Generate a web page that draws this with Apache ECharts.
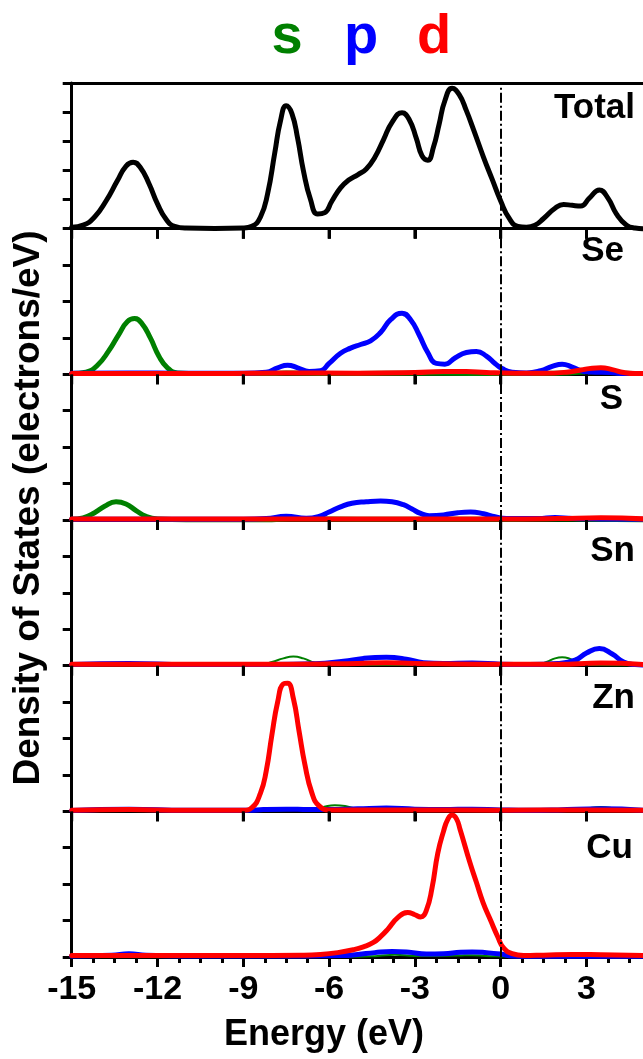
<!DOCTYPE html>
<html><head><meta charset="utf-8">
<script src="https://cdn.jsdelivr.net/npm/echarts@6/dist/echarts.min.js"></script>
<style>html,body{margin:0;padding:0;background:#fff}#c{width:643px;height:1059px}</style>
</head><body><div id="c"></div><script>
// ---------- data (energy eV, DOS in panel tick units) ----------
const xTicks = [-15, -12, -9, -6, -3, 0, 3];
const panelNames = ['Total', 'Se', 'S', 'Sn', 'Zn', 'Cu'];
const orbitalNames = ['s', 'p', 'd'];

const totalDos = [[-15,0.05],[-14.6,0.12],[-14.2,0.4],[-13.8,0.95],[-13.4,1.65],[-13.1,2.15],[-12.85,2.28],[-12.6,2.1],[-12.3,1.55],[-12.0,0.85],[-11.7,0.32],[-11.4,0.08],[-11,0.02],[-10,0.01],[-9,0.02],[-8.7,0.08],[-8.4,0.4],[-8.15,1.2],[-7.9,2.6],[-7.7,3.7],[-7.5,4.22],[-7.3,3.95],[-7.1,3.1],[-6.9,2.0],[-6.65,1.0],[-6.4,0.5],[-6.15,0.55],[-5.9,0.95],[-5.6,1.4],[-5.3,1.68],[-5.0,1.85],[-4.7,2.05],[-4.4,2.45],[-4.1,3.05],[-3.8,3.65],[-3.45,3.98],[-3.2,3.75],[-2.95,3.1],[-2.75,2.5],[-2.55,2.35],[-2.35,2.8],[-2.15,3.6],[-1.95,4.4],[-1.7,4.82],[-1.45,4.6],[-1.2,4.05],[-0.95,3.4],[-0.6,2.45],[-0.3,1.7],[0,0.95],[0.3,0.35],[0.6,0.08],[0.9,0.05],[1.2,0.12],[1.5,0.35],[1.9,0.7],[2.2,0.83],[2.5,0.8],[2.8,0.78],[3.1,1.05],[3.45,1.33],[3.75,1.05],[4.05,0.5],[4.4,0.12],[4.7,0.02],[5,0]];

const seS = [[-15,0.02],[-14.5,0.06],[-14.1,0.25],[-13.7,0.65],[-13.35,1.1],[-13.05,1.45],[-12.8,1.53],[-12.55,1.4],[-12.25,1.0],[-11.95,0.5],[-11.65,0.18],[-11.3,0.04],[-10.5,0.02],[-8,0.02],[-7.5,0.04],[-6,0.02],[-4,0.03],[-2,0.03],[0,0.02],[2,0.03],[3.5,0.08],[4.3,0.03],[5,0.02]];
const seP = [[-15,0.03],[-13,0.04],[-11,0.03],[-9,0.03],[-8.2,0.06],[-7.8,0.18],[-7.45,0.25],[-7.1,0.18],[-6.7,0.08],[-6.3,0.1],[-6.0,0.3],[-5.6,0.58],[-5.25,0.72],[-4.9,0.82],[-4.55,0.92],[-4.2,1.15],[-3.85,1.5],[-3.45,1.68],[-3.15,1.5],[-2.85,1.08],[-2.55,0.6],[-2.25,0.3],[-1.95,0.28],[-1.6,0.45],[-1.2,0.6],[-0.85,0.63],[-0.5,0.5],[-0.2,0.3],[0.05,0.16],[0.4,0.06],[0.9,0.04],[1.4,0.1],[1.8,0.22],[2.15,0.28],[2.5,0.2],[2.9,0.08],[3.3,0.06],[3.8,0.05],[4.3,0.02],[5,0.02]];
const seD = [[-15,0.02],[-10,0.02],[-7.5,0.04],[-5,0.03],[-3,0.05],[-2,0.08],[-1.2,0.08],[-0.5,0.05],[0.5,0.03],[1.5,0.03],[2.3,0.06],[2.8,0.12],[3.2,0.17],[3.5,0.18],[3.9,0.13],[4.3,0.05],[4.7,0.02],[5,0.02]];

const sS = [[-15,0.02],[-14.6,0.06],[-14.2,0.2],[-13.85,0.38],[-13.45,0.5],[-13.1,0.44],[-12.75,0.26],[-12.4,0.1],[-12.0,0.03],[-11,0.01],[-8,0.01],[-7.4,0.03],[-5,0.02],[0,0.02],[2,0.03],[3,0.02],[5,0.01]];
const sP = [[-15,0.02],[-12,0.02],[-9,0.02],[-8.2,0.04],[-7.5,0.1],[-6.8,0.05],[-6.35,0.1],[-6.0,0.22],[-5.6,0.36],[-5.2,0.46],[-4.7,0.5],[-4.2,0.52],[-3.8,0.5],[-3.4,0.42],[-3.1,0.3],[-2.8,0.18],[-2.5,0.12],[-2.0,0.14],[-1.5,0.2],[-1.05,0.22],[-0.6,0.17],[-0.2,0.09],[0.2,0.04],[1.3,0.04],[1.9,0.07],[2.5,0.04],[3.5,0.03],[5,0.02]];
const sD = [[-15,0.03],[-5,0.03],[0,0.03],[2,0.04],[3.5,0.06],[5,0.03]];

const snS = [[-15,0.01],[-9,0.01],[-8.4,0.03],[-8.0,0.1],[-7.6,0.2],[-7.25,0.25],[-6.9,0.2],[-6.5,0.08],[-6.1,0.02],[-3,0.02],[0,0.01],[1.2,0.02],[1.6,0.1],[1.9,0.2],[2.15,0.23],[2.45,0.18],[2.8,0.07],[3.2,0.02],[5,0.01]];
const snP = [[-15,0.03],[-13,0.06],[-11,0.03],[-8,0.03],[-6.5,0.05],[-5.5,0.12],[-4.8,0.2],[-4,0.23],[-3.3,0.18],[-2.7,0.08],[-2,0.06],[-1,0.07],[0,0.04],[1,0.03],[2,0.06],[2.6,0.15],[3.0,0.35],[3.45,0.47],[3.9,0.32],[4.3,0.1],[4.7,0.03],[5,0.02]];
const snD = [[-15,0.04],[-12,0.04],[-8,0.04],[-5,0.06],[-4,0.08],[-3,0.06],[0,0.04],[2,0.04],[3.5,0.07],[5,0.03]];

const znS = [[-15,0.01],[-9,0.01],[-7.5,0.03],[-6.6,0.05],[-6.2,0.12],[-5.8,0.17],[-5.4,0.14],[-5.0,0.06],[-4.5,0.02],[0,0.01],[2.5,0.02],[3.0,0.08],[3.5,0.12],[4.0,0.08],[4.5,0.02],[5,0.01]];
const znP = [[-15,0.02],[-13,0.06],[-11,0.03],[-8.8,0.03],[-8.3,0.05],[-7.5,0.06],[-6.7,0.05],[-6,0.05],[-5,0.07],[-4,0.09],[-3,0.06],[-2,0.05],[-1,0.06],[0,0.04],[1,0.03],[2,0.04],[3.5,0.07],[5,0.03]];
const znD = [[-15,0.03],[-13,0.05],[-11,0.03],[-9,0.03],[-8.7,0.1],[-8.4,0.5],[-8.2,1.1],[-8.0,2.1],[-7.8,3.0],[-7.6,3.5],[-7.45,3.52],[-7.25,3.1],[-7.05,2.2],[-6.85,1.3],[-6.6,0.5],[-6.35,0.15],[-6,0.04],[-3,0.04],[0,0.03],[3,0.04],[5,0.03]];

const cuS = [[-15,0.01],[-5,0.01],[-4.3,0.03],[-3.7,0.06],[-3,0.03],[-1.5,0.04],[-1,0.05],[-0.5,0.03],[0.5,0.01],[2.5,0.02],[3.5,0.07],[4.3,0.02],[5,0.01]];
const cuP = [[-15,0.03],[-13.6,0.05],[-13,0.09],[-12.4,0.05],[-11,0.03],[-7,0.03],[-5.5,0.04],[-5,0.07],[-4.4,0.12],[-3.8,0.15],[-3.2,0.13],[-2.6,0.08],[-2.0,0.09],[-1.4,0.13],[-1.0,0.14],[-0.5,0.12],[0,0.08],[0.4,0.03],[1,0.02],[5,0.02]];
const cuD = [[-15,0.04],[-12,0.04],[-9,0.04],[-7,0.05],[-6.3,0.07],[-5.7,0.12],[-5.15,0.2],[-4.8,0.28],[-4.45,0.4],[-4.2,0.56],[-3.95,0.76],[-3.6,1.08],[-3.25,1.22],[-3.0,1.16],[-2.8,1.1],[-2.6,1.28],[-2.4,1.9],[-2.2,2.85],[-2.0,3.45],[-1.85,3.78],[-1.7,3.9],[-1.55,3.8],[-1.42,3.5],[-1.08,2.6],[-0.85,2.05],[-0.62,1.5],[-0.35,1.0],[-0.1,0.55],[0.1,0.25],[0.4,0.09],[0.8,0.04],[1.5,0.05],[2.5,0.07],[3.5,0.06],[5,0.04]];

// ---------- layout / style ----------
const FONT = "'Liberation Sans', Arial, sans-serif";
const COLORS = { s: '#008000', p: '#0000ff', d: '#ff0000', total: '#000000' };
const panelTops = [83, 228.67, 374.33, 520, 665.67, 811.33];
const panelH = 145.67;
const yMax = [5, 4, 4, 4, 4, 4];
const panelSeries = [
  [{ data: totalDos, c: COLORS.total, w: 5 }],
  [{ data: seS, c: COLORS.s, w: 5 }, { data: seP, c: COLORS.p, w: 5 }, { data: seD, c: COLORS.d, w: 5 }],
  [{ data: sS, c: COLORS.s, w: 5 }, { data: sP, c: COLORS.p, w: 5 }, { data: sD, c: COLORS.d, w: 5 }],
  [{ data: snS, c: COLORS.s, w: 2 }, { data: snP, c: COLORS.p, w: 5 }, { data: snD, c: COLORS.d, w: 5 }],
  [{ data: znS, c: COLORS.s, w: 2 }, { data: znP, c: COLORS.p, w: 5 }, { data: znD, c: COLORS.d, w: 5 }],
  [{ data: cuS, c: COLORS.s, w: 2 }, { data: cuP, c: COLORS.p, w: 5 }, { data: cuD, c: COLORS.d, w: 5 }]
];
const labelPos = [[635, 108], [624, 251], [623, 399], [635, 551], [635, 698], [633, 848]];

const grids = [], xAxes = [], yAxes = [], series = [];
panelTops.forEach((top, i) => {
  grids.push({ left: 71.7, width: 600.6, top: top, height: panelH, outerBoundsMode: 'none', containLabel: false });
  const last = i === panelTops.length - 1;
  xAxes.push({
    type: 'value', gridIndex: i, min: -15, max: 6, interval: 3,
    axisLine: { show: true, onZero: false, lineStyle: { color: '#000', width: 3 } },
    axisTick: { show: true, length: 10, lineStyle: { color: '#000', width: 3 } },
    minorTick: { show: last, splitNumber: 4, length: 6, lineStyle: { color: '#000', width: 3 } },
    splitLine: { show: false },
    axisLabel: {
      show: last, margin: 16, color: '#000', fontFamily: FONT, fontWeight: 'bold', fontSize: 34,
      showMaxLabel: false,
      formatter: v => xTicks.indexOf(v) >= 0 ? String(v) : ''
    }
  });
  yAxes.push({
    type: 'value', gridIndex: i, min: 0, max: yMax[i], interval: 1,
    axisLine: { show: true, onZero: false, lineStyle: { color: '#000', width: 3 } },
    axisTick: { show: true, length: 9, lineStyle: { color: '#000', width: 3 } },
    splitLine: { show: false },
    axisLabel: { show: false }
  });
  panelSeries[i].forEach((s, k) => {
    const ser = {
      type: 'line', xAxisIndex: i, yAxisIndex: i, data: s.data,
      smooth: 0.5, showSymbol: false, symbol: 'none', clip: false, silent: true,
      z: 2 + k,
      lineStyle: { color: s.c, width: s.w, join: 'round', cap: 'round' },
      itemStyle: { color: s.c }
    };
    if (k === 0) {
      ser.markLine = {
        silent: true, symbol: ['none', 'none'], label: { show: false },
        lineStyle: { color: '#000', width: 2, type: [10, 3, 2, 3] },
        data: [{ xAxis: 0 }]
      };
    }
    series.push(ser);
  });
  // major x ticks hanging down from the top edge of inner panels (positioned via the panel's own axes)
  if (i > 0) {
    const ymax = yMax[i];
    series.push({
      type: 'custom', xAxisIndex: i, yAxisIndex: i, silent: true, clip: false, z: 10,
      encode: { x: 0, y: 1 },
      data: xTicks.map(v => [v, ymax]),
      renderItem: (params, api) => {
        const p = api.coord([api.value(0), api.value(1)]);
        return { type: 'line', shape: { x1: p[0], y1: p[1], x2: p[0], y2: p[1] + 10 }, style: { stroke: '#000', lineWidth: 3 } };
      }
    });
  }
});
// top border of the first panel
xAxes.push({
  type: 'value', gridIndex: 0, min: -15, max: 6, position: 'top',
  axisLine: { show: true, onZero: false, lineStyle: { color: '#000', width: 3 } },
  axisTick: { show: false }, axisLabel: { show: false }, splitLine: { show: false }
});

const graphics = [];
panelNames.forEach((n, i) => {
  graphics.push({
    type: 'text', x: labelPos[i][0], y: labelPos[i][1], z: 100,
    style: { text: n, fill: '#000', font: `bold 35px ${FONT}`, textAlign: 'right', textVerticalAlign: 'middle', verticalAlign: 'middle' }
  });
});
const legendX = [287, 361, 434];
orbitalNames.forEach((n, i) => {
  graphics.push({
    type: 'text', x: legendX[i], y: 38, z: 100,
    style: { text: n, fill: COLORS[n], font: `bold 56px ${FONT}`, textAlign: 'center', textVerticalAlign: 'middle', verticalAlign: 'middle' }
  });
});
graphics.push({
  type: 'text', x: 29, y: 508, rotation: Math.PI / 2, z: 100,
  style: { text: 'Density of States (electrons/eV)', fill: '#000', font: `bold 37px ${FONT}`, textAlign: 'center', textVerticalAlign: 'middle', verticalAlign: 'middle' }
});
graphics.push({
  type: 'text', x: 324, y: 1035, z: 100,
  style: { text: 'Energy (eV)', fill: '#000', font: `bold 36px ${FONT}`, textAlign: 'center', textVerticalAlign: 'middle', verticalAlign: 'middle' }
});

const chart = echarts.init(document.getElementById('c'), null, { renderer: 'canvas' });
chart.setOption({
  backgroundColor: '#fff',
  animation: false,
  grid: grids, xAxis: xAxes, yAxis: yAxes, series: series,
  graphic: graphics
});
</script></body></html>
